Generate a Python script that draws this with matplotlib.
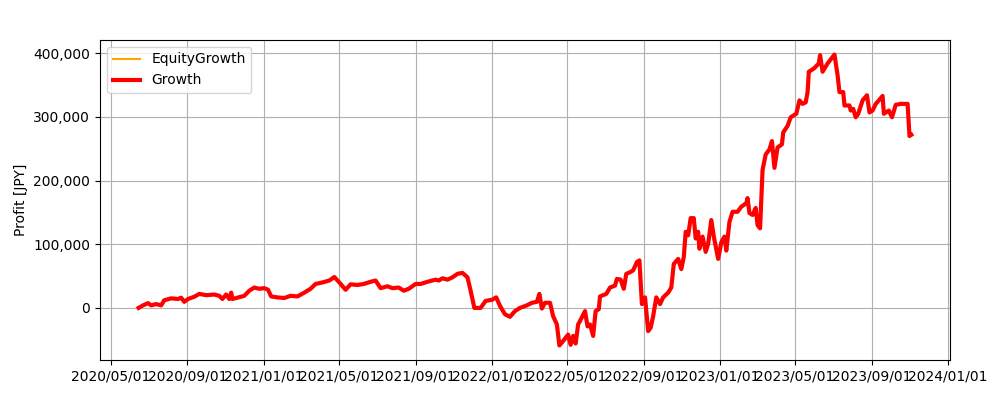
import matplotlib
matplotlib.use("Agg")
import matplotlib.pyplot as plt
import matplotlib.dates as mdates
import matplotlib.ticker as mticker
import pandas as pd

dates = [
    "2020-06-15", "2020-06-22", "2020-06-30", "2020-07-05", "2020-07-13", "2020-07-21",
    "2020-07-26", "2020-08-06", "2020-08-17", "2020-08-22", "2020-08-27", "2020-09-02",
    "2020-09-12", "2020-09-20", "2020-10-01", "2020-10-14", "2020-10-22", "2020-10-27",
    "2020-11-02", "2020-11-07", "2020-11-10", "2020-11-12", "2020-11-20", "2020-12-01",
    "2020-12-09", "2020-12-17", "2020-12-25", "2021-01-02", "2021-01-08", "2021-01-13",
    "2021-01-23", "2021-02-03", "2021-02-13", "2021-02-24", "2021-03-07", "2021-03-17",
    "2021-03-25", "2021-04-05", "2021-04-16", "2021-04-24", "2021-05-02", "2021-05-12",
    "2021-05-20", "2021-05-31", "2021-06-10", "2021-06-21", "2021-06-29", "2021-07-07",
    "2021-07-18", "2021-07-26", "2021-08-05", "2021-08-13", "2021-08-21", "2021-09-01",
    "2021-09-09", "2021-09-20", "2021-10-03", "2021-10-08", "2021-10-14", "2021-10-22",
    "2021-10-30", "2021-11-07", "2021-11-15", "2021-11-23", "2021-11-28", "2021-12-04",
    "2021-12-14", "2021-12-22", "2022-01-01", "2022-01-08", "2022-01-14", "2022-01-22",
    "2022-01-30", "2022-02-07", "2022-02-15", "2022-02-26", "2022-03-06", "2022-03-14",
    "2022-03-18", "2022-03-22", "2022-03-27", "2022-04-04", "2022-04-09", "2022-04-15",
    "2022-04-19", "2022-04-25", "2022-05-03", "2022-05-07", "2022-05-11", "2022-05-15",
    "2022-05-19", "2022-05-26", "2022-05-30", "2022-06-03", "2022-06-07", "2022-06-12",
    "2022-06-16", "2022-06-21", "2022-06-23", "2022-07-03", "2022-07-09", "2022-07-17",
    "2022-07-20", "2022-07-26", "2022-07-31", "2022-08-04", "2022-08-10", "2022-08-15",
    "2022-08-21", "2022-08-25", "2022-08-29", "2022-09-03", "2022-09-08", "2022-09-12",
    "2022-09-16", "2022-09-21", "2022-09-27", "2022-10-02", "2022-10-10", "2022-10-15",
    "2022-10-19", "2022-10-26", "2022-10-31", "2022-11-04", "2022-11-07", "2022-11-11",
    "2022-11-15", "2022-11-20", "2022-11-23", "2022-11-27", "2022-11-29", "2022-12-04",
    "2022-12-09", "2022-12-13", "2022-12-18", "2022-12-22", "2022-12-29", "2023-01-03",
    "2023-01-08", "2023-01-11", "2023-01-16", "2023-01-21", "2023-01-29", "2023-02-04",
    "2023-02-12", "2023-02-14", "2023-02-17", "2023-02-22", "2023-02-27", "2023-03-02",
    "2023-03-06", "2023-03-10", "2023-03-15", "2023-03-21", "2023-03-25", "2023-03-29",
    "2023-04-03", "2023-04-10", "2023-04-12", "2023-04-19", "2023-04-24", "2023-05-03",
    "2023-05-08", "2023-05-13", "2023-05-18", "2023-05-21", "2023-05-23", "2023-05-31",
    "2023-06-08", "2023-06-10", "2023-06-14", "2023-06-22", "2023-07-03", "2023-07-08",
    "2023-07-11", "2023-07-17", "2023-07-19", "2023-07-27", "2023-07-29", "2023-08-02",
    "2023-08-06", "2023-08-10", "2023-08-17", "2023-08-24", "2023-08-28", "2023-09-02",
    "2023-09-07", "2023-09-12", "2023-09-18", "2023-09-20", "2023-09-28", "2023-10-03",
    "2023-10-09", "2023-10-17", "2023-10-28", "2023-10-31", "2023-11-03",
]

growth = [
    0, 4000, 7500, 4000, 6000, 4000,
    12000, 15000, 14000, 16000, 9500, 14000,
    17500, 22000, 20000, 21000, 19000, 14000,
    21000, 14000, 24000, 14000, 16000, 19000,
    27000, 32000, 30000, 31000, 28500, 18000,
    16500, 15500, 19000, 18000, 24000, 30000,
    37600, 40000, 43000, 48500, 40000, 28500,
    37000, 36000, 37600, 41000, 43000, 31000,
    34000, 31000, 32000, 27000, 30000, 37600,
    37600, 41000, 44400, 43000, 46500, 44400,
    48000, 53500, 55000, 48000, 27000, 0,
    0, 11000, 12700, 16500, 3000, -10000,
    -14000, -5000, 0, 4000, 8000, 9500,
    22000, -1000, 8000, 8000, -13000, -26000,
    -59000, -52000, -42000, -58000, -44000, -56000,
    -26000, -13000, -5000, -29000, -26000, -44000,
    -5000, -2000, 18000, 22000, 32000, 35000,
    45500, 44400, 30000, 53500, 56000, 59000,
    72000, 74600, 6000, 16500, -36500, -31000,
    -13000, 16500, 6000, 16500, 24000, 32000,
    69000, 77000, 61000, 80000, 119500, 114000,
    141000, 141000, 109000, 119500, 93000, 112000,
    88000, 101000, 138000, 112000, 77000, 103000,
    112000, 90000, 135000, 151000, 151000, 159000,
    164500, 172500, 149000, 146000, 157000, 130000,
    125000, 217000, 241000, 249000, 262000, 220000,
    252000, 257000, 275500, 286000, 299500, 305000,
    326000, 320500, 323000, 339000, 371000, 376000,
    384000, 397000, 371000, 384000, 398000, 365500,
    339000, 339000, 318000, 318000, 310000, 312600,
    299500, 305000, 326000, 334000, 307000, 310000,
    320500, 326000, 333000, 305000, 310000, 299500,
    319000, 320500, 320500, 270000, 272000,
]

equity_growth = list(growth)

x = pd.to_datetime(dates)

fig, ax = plt.subplots(figsize=(10, 4), dpi=100)
fig.subplots_adjust(left=0.1, right=0.95, bottom=0.1, top=0.9)

ax.plot(x, equity_growth, color="orange", linewidth=1.5, label="EquityGrowth")
ax.plot(x, growth, color="red", linewidth=3, label="Growth")

ax.set_ylabel("Profit [JPY]")
ax.yaxis.set_major_formatter(mticker.StrMethodFormatter("{x:,.0f}"))
ax.xaxis.set_major_locator(mdates.MonthLocator(bymonth=[1, 5, 9]))
ax.xaxis.set_major_formatter(mdates.DateFormatter("%Y/%m/%d"))
ax.grid(True)
ax.legend(loc="upper left")

fig.savefig("out.png", dpi=100)
